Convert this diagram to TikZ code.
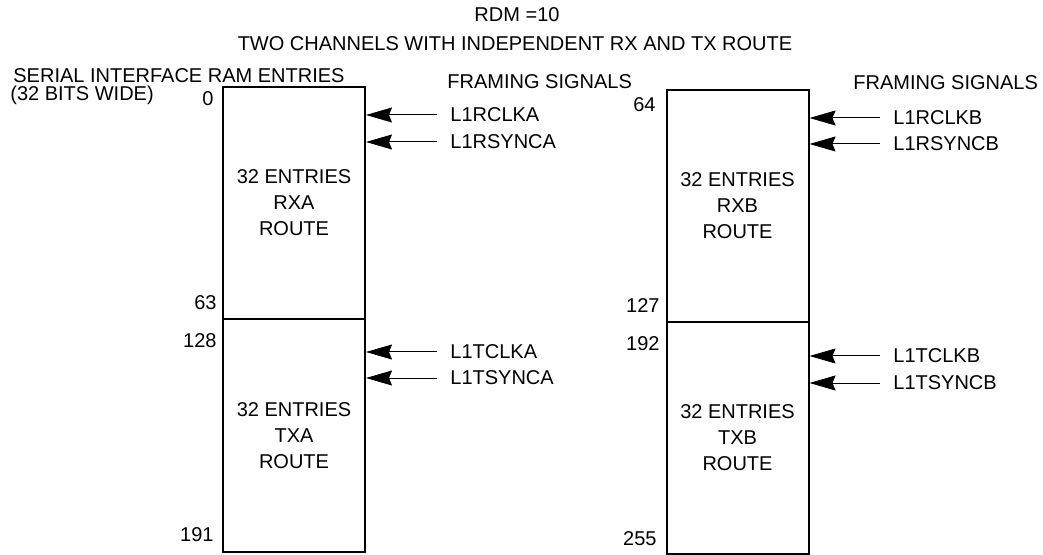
\documentclass[tikz,border=0pt]{standalone}
\usepackage{fontspec}
\setmainfont{Liberation Sans}
\usepackage{tikz}
\usetikzlibrary{positioning,arrows.meta}

\tikzset{
  routebox/.style={draw, line width=1pt, minimum width=71pt, align=center, inner sep=0pt},
  sig/.style={anchor=west, inner xsep=6.5pt, inner ysep=0pt},
  sigarrow/.style={-{Stealth[length=13pt,width=7.5pt,inset=1.5pt]}, line width=0.5pt},
  idx/.style={anchor=east, inner sep=0pt},
  lbl/.style={anchor=west, inner sep=0pt},
}

\begin{document}
\begin{tikzpicture}[x=0.5pt, y=-0.5pt, font=\fontsize{10}{13}\selectfont]
  \useasboundingbox (0,0) rectangle (1043,555);

  % Titles
  \node (rdm) at (517,15) {RDM =10};
  \node (title) at (515,44) {TWO CHANNELS WITH INDEPENDENT RX AND TX ROUTE};
  \node[lbl] (ram) at (13,76) {SERIAL INTERFACE RAM ENTRIES};
  \node[lbl] (wide) at (10,95) {(32 BITS WIDE)};

  % Channel A
  \node[routebox, minimum height=116pt] (rxa) at (294,203) {32 ENTRIES\\RXA\\ROUTE};
  \node[routebox, minimum height=116.5pt] (txa) at (294,435.5) {32 ENTRIES\\TXA\\ROUTE};
  \node[idx] (a0) at (214,99) {0};
  \node[idx] (a63) at (217,303) {63};
  \node[idx] (a128) at (217,341) {128};
  \node[idx] (a191) at (214,535) {191};

  % Channel B
  \node[routebox, minimum height=116pt] (rxb) at (737.5,206) {32 ENTRIES\\RXB\\ROUTE};
  \node[routebox, minimum height=116pt] (txb) at (737.5,438) {32 ENTRIES\\TXB\\ROUTE};
  \node[idx] (b64) at (656,105) {64};
  \node[idx] (b127) at (660,306) {127};
  \node[idx] (b192) at (660,344) {192};
  \node[idx] (b255) at (657,539) {255};

  % Framing signals
  \node[lbl] (fsa) at (447,82) {FRAMING SIGNALS};
  \node[lbl] (fsb) at (853,83) {FRAMING SIGNALS};

  \node[sig] (rclka) at (437,115) {L1RCLKA};
  \node[sig] (rsynca) at (437,142) {L1RSYNCA};
  \node[sig] (tclka) at (437,352) {L1TCLKA};
  \node[sig] (tsynca) at (437,378) {L1TSYNCA};
  \node[sig] (rclkb) at (880,118) {L1RCLKB};
  \node[sig] (rsyncb) at (880,144) {L1RSYNCB};
  \node[sig] (tclkb) at (880,356) {L1TCLKB};
  \node[sig] (tsyncb) at (880,383) {L1TSYNCB};

  \draw[sigarrow] (rclka.west) -- (rclka.west -| rxa.east);
  \draw[sigarrow] (rsynca.west) -- (rsynca.west -| rxa.east);
  \draw[sigarrow] (tclka.west) -- (tclka.west -| txa.east);
  \draw[sigarrow] (tsynca.west) -- (tsynca.west -| txa.east);
  \draw[sigarrow] (rclkb.west) -- (rclkb.west -| rxb.east);
  \draw[sigarrow] (rsyncb.west) -- (rsyncb.west -| rxb.east);
  \draw[sigarrow] (tclkb.west) -- (tclkb.west -| txb.east);
  \draw[sigarrow] (tsyncb.west) -- (tsyncb.west -| txb.east);
\end{tikzpicture}
\end{document}
